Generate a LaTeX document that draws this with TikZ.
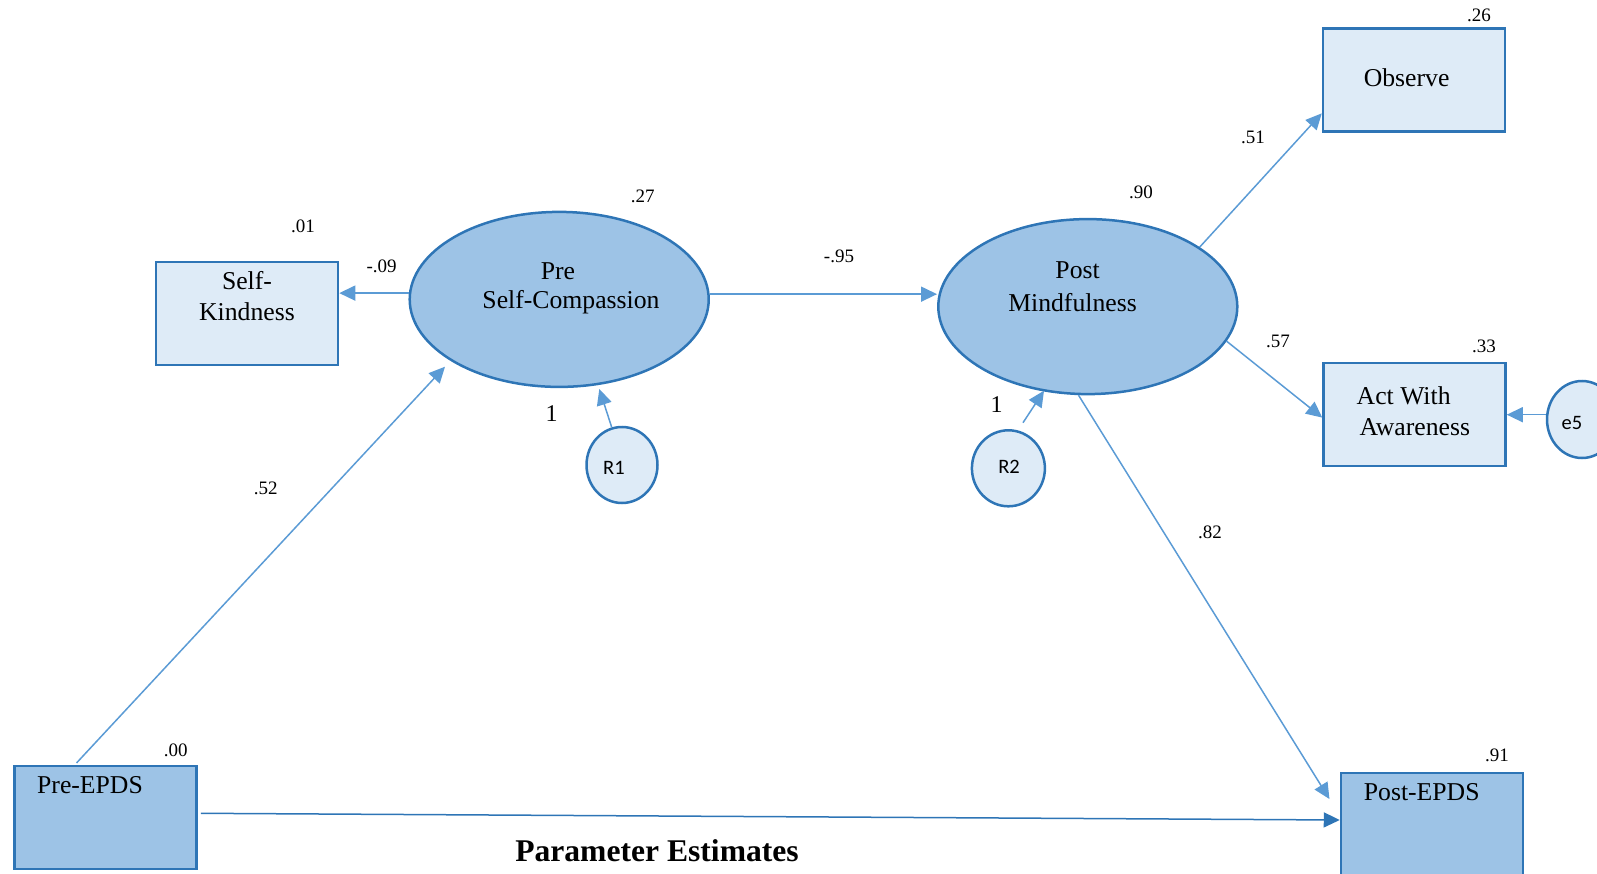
\documentclass[tikz,border=0pt]{standalone}
\usepackage{fontspec}
\setmainfont{Liberation Serif}
\newfontfamily\calib{Carlito}
\usetikzlibrary{arrows.meta,calc,shapes.geometric}
\definecolor{lightfill}{RGB}{222,235,247}
\definecolor{darkfill}{RGB}{157,195,230}
\definecolor{border}{RGB}{46,117,182}
\definecolor{arrowc}{RGB}{91,155,213}
\tikzset{
  obsbox/.style={draw=border,line width=2.5pt,fill=lightfill,minimum width=182pt,minimum height=103pt,inner sep=0pt},
  epdsbox/.style={draw=border,line width=2.5pt,fill=darkfill,minimum width=182pt,minimum height=103pt,inner sep=0pt},
  latent/.style={ellipse,draw=border,line width=2.5pt,fill=darkfill,minimum width=299pt,minimum height=175pt,inner sep=0pt},
  errc/.style={ellipse,draw=border,line width=2.5pt,fill=lightfill,inner sep=0pt,font=\calib\fontsize{20}{24}\selectfont},
  boxtxt/.style={font=\fontsize{25.7}{31}\selectfont,inner sep=0pt},
  coef/.style={font=\fontsize{19}{22}\selectfont,inner sep=0pt},
  conn/.style={draw=arrowc,line width=1.5pt,-{Triangle[length=16pt,width=15pt]}},
  connd/.style={draw=border,line width=1.5pt,-{Triangle[length=16pt,width=15pt]}}
}
\begin{document}
\begin{tikzpicture}[x=1pt,y=-1pt]
\useasboundingbox (0,0) rectangle (1597,874);
% boxes
\node[obsbox] (sk) at (247,313.5) {};
\node[obsbox] (obs) at (1414,80) {};
\node[obsbox] (awa) at (1414.5,414.7) {};
\node[epdsbox] (pre) at (105.4,817.7) {};
\node[epdsbox] (poste) at (1432,824.5) {};
% latent
\node[latent] (presc) at (559.2,299.4) {};
\node[latent] (postm) at (1087.8,306.6) {};
% error terms
\node[errc,minimum width=71pt,minimum height=76pt] (r1) at (622,465) {};
\node[errc,minimum width=73pt,minimum height=76pt] (r2) at (1008.4,468.3) {};
\node[errc,minimum width=70pt,minimum height=77pt] (e5) at (1582,419.5) {};
% texts in shapes
\node[boxtxt,align=center] (tsk) at (247,296) {Self-\\Kindness};
\node[boxtxt] (tobs) at (1406.6,77.4) {Observe};
\node[boxtxt,align=left,anchor=west] (tawa) at (1356.5,411) {Act With\\\hspace{3pt}Awareness};
\node[boxtxt] (tpre) at (90,785) {Pre-EPDS};
\node[boxtxt] (tposte) at (1421.7,791.7) {Post-EPDS};
\node[boxtxt] (tpre1) at (558,271) {Pre};
\node[boxtxt] (tpre2) at (571,302.5) {Self-Compassion};
\node[boxtxt] (tpost1) at (1077.6,270) {Post};
\node[boxtxt] (tpost2) at (1072.5,302.5) {Mindfulness};
\node[font=\calib\fontsize{20.5}{24}\selectfont,inner sep=0pt] (tr1) at (614,468) {R1};
\node[font=\calib\fontsize{20.5}{24}\selectfont,inner sep=0pt] (tr2) at (1009,466.7) {R2};
\node[font=\calib\fontsize{20.5}{24}\selectfont,inner sep=0pt] (te5) at (1572,423) {e5};
% connector coordinates
\coordinate (preout) at ($(pre.north west)+(63.4,-2)$);
\coordinate (prescin) at (445,366.7);
\coordinate (r1out) at (611.7,427.3);
\coordinate (r1in) at (599.3,389);
\coordinate (r2out) at (1023,422.7);
\coordinate (r2in) at (1044,390.7);
\coordinate (postein) at ($(poste.north west)+(-10.3,27.3)$);
\coordinate (prescl) at ($(presc.west)+(0.3,-6.3)$);
% connectors
\draw[conn] (prescl) -- (prescl -| sk.east);
\draw[conn] (presc.2.5) -- (presc.2.5 -| postm.west);
\draw[conn] (postm.28) -- ($(obs.south west)+(0,-19.4)$);
\draw[conn] (postm.-14) -- ($(awa.west)+(0,2.9)$);
\draw[conn] (e5.west |- awa.east) -- (awa.east);
\draw[conn] (postm.-96) -- (postein);
\draw[conn] (preout) -- (prescin);
\draw[conn] (r1out) -- (r1in);
\draw[conn] (r2out) -- (r2in);
\draw[connd] ($(pre.east)+(3.3,-4.4)$) -- ($(poste.west)+(0,-4.5)$);
% coefficients
\node[coef] (c26) at (1479,15) {.26};
\node[coef] (c01) at (303,226) {.01};
\node[coef] (c09) at (381.7,266.7) {-.09};
\node[coef] (c27) at (642.7,196.6) {.27};
\node[coef] (c95) at (839,256.7) {-.95};
\node[coef] (c90) at (1141,192.5) {.90};
\node[coef] (c51) at (1253,137.5) {.51};
\node[coef] (c57) at (1278,341) {.57};
\node[coef] (c33) at (1484,346.7) {.33};
\node[coef] (c52) at (265.8,488) {.52};
\node[coef] (c82) at (1210,532.7) {.82};
\node[coef] (c00) at (175.7,750.7) {.00};
\node[coef] (c91) at (1497,755) {.91};
\node[font=\fontsize{24}{28}\selectfont,inner sep=0pt] (one1) at (551.7,413.3) {1};
\node[font=\fontsize{24}{28}\selectfont,inner sep=0pt] (one2) at (996.7,405) {1};
\node[font=\bfseries\fontsize{31.6}{36}\selectfont,inner sep=0pt] (title) at (657,850.5) {Parameter Estimates};
\end{tikzpicture}
\end{document}
